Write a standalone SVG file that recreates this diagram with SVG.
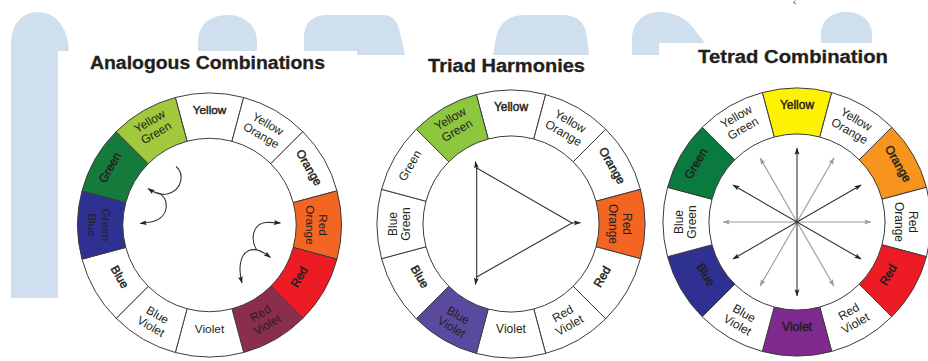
<svg xmlns="http://www.w3.org/2000/svg" width="928" height="361" viewBox="0 0 928 361">
<style>
.bg{fill:#cfdfee}
.seg{stroke:#3b3b3b;stroke-width:1;fill:#fff}
.lbl{font-family:"Liberation Sans",Arial,sans-serif;font-size:12px;fill:#231f20;text-anchor:middle}
.b{stroke:#231f20;stroke-width:0.45}
.title{font-family:"Liberation Sans",Arial,sans-serif;font-size:18px;font-weight:bold;fill:#231f20;stroke:#231f20;stroke-width:0.3}
.conn{fill:none;stroke:#333;stroke-width:1.1}
.gray{stroke:#9a9a9a}
</style>
<defs>
<marker id="ah" viewBox="0 0 10 8" refX="9.5" refY="4" markerWidth="7" markerHeight="5.6" orient="auto-start-reverse" markerUnits="userSpaceOnUse"><path d="M0,0.5 L10,4 L0,7.5 L2,4 Z" fill="#231f20"/></marker>
<marker id="ahg" viewBox="0 0 10 8" refX="9.5" refY="4" markerWidth="7" markerHeight="5.6" orient="auto-start-reverse" markerUnits="userSpaceOnUse"><path d="M0,0.5 L10,4 L0,7.5 L2,4 Z" fill="#9a9a9a"/></marker>
<path id="s0" d="M-34.682,-129.434 A134,134 0 0 1 34.682,-129.434 L22.776,-85.001 A88,88 0 0 0 -22.776,-85.001 Z"/>
<path id="s1" d="M34.682,-129.434 A134,134 0 0 1 94.752,-94.752 L62.225,-62.225 A88,88 0 0 0 22.776,-85.001 Z"/>
<path id="s2" d="M94.752,-94.752 A134,134 0 0 1 129.434,-34.682 L85.001,-22.776 A88,88 0 0 0 62.225,-62.225 Z"/>
<path id="s3" d="M129.434,-34.682 A134,134 0 0 1 129.434,34.682 L85.001,22.776 A88,88 0 0 0 85.001,-22.776 Z"/>
<path id="s4" d="M129.434,34.682 A134,134 0 0 1 94.752,94.752 L62.225,62.225 A88,88 0 0 0 85.001,22.776 Z"/>
<path id="s5" d="M94.752,94.752 A134,134 0 0 1 34.682,129.434 L22.776,85.001 A88,88 0 0 0 62.225,62.225 Z"/>
<path id="s6" d="M34.682,129.434 A134,134 0 0 1 -34.682,129.434 L-22.776,85.001 A88,88 0 0 0 22.776,85.001 Z"/>
<path id="s7" d="M-34.682,129.434 A134,134 0 0 1 -94.752,94.752 L-62.225,62.225 A88,88 0 0 0 -22.776,85.001 Z"/>
<path id="s8" d="M-94.752,94.752 A134,134 0 0 1 -129.434,34.682 L-85.001,22.776 A88,88 0 0 0 -62.225,62.225 Z"/>
<path id="s9" d="M-129.434,34.682 A134,134 0 0 1 -129.434,-34.682 L-85.001,-22.776 A88,88 0 0 0 -85.001,22.776 Z"/>
<path id="s10" d="M-129.434,-34.682 A134,134 0 0 1 -94.752,-94.752 L-62.225,-62.225 A88,88 0 0 0 -85.001,-22.776 Z"/>
<path id="s11" d="M-94.752,-94.752 A134,134 0 0 1 -34.682,-129.434 L-22.776,-85.001 A88,88 0 0 0 -62.225,-62.225 Z"/>
</defs>

<g id="background">
<path class="bg" d="M11,298 V45 C11,24 22,12 38,12 C55,12 66,26 68.5,45 V51 H58 V298 Z"/>
<path class="bg" d="M198,51 V42 C198,24 211,15 228,15 C245,15 257,26 257,42 V51 Z"/>
<path class="bg" d="M304,51 V38 C304,22 313,15 328,15 H382 C393,15 398,22 400,33 L405,55 H357 V51 Z"/>
<path class="bg" d="M493,55 L496,38 C499,22 510,15 525,15 H563 C578,15 586,24 587,38 L589,55 Z"/>
<path class="bg" d="M632,55 V40 C632,22 644,12 660,12 C678,12 690,22 697,33 L705,43 H659 V55 Z"/>
<path class="bg" d="M821,43 V34 C821,20 832,12 847,12 C862,12 872,22 872,34 V43 Z"/>
<path d="M795,0.5 L793.5,2.5 L796,4" stroke="#444" stroke-width="0.8" fill="none"/>
</g>

<g id="titles">
<text class="title" x="90" y="68.5" textLength="235" lengthAdjust="spacingAndGlyphs">Analogous Combinations</text>
<text class="title" x="428" y="72" textLength="157" lengthAdjust="spacingAndGlyphs">Triad Harmonies</text>
<text class="title" x="698" y="62.5" textLength="190" lengthAdjust="spacingAndGlyphs">Tetrad Combination</text>
</g>

<g id="wheel-analogous" transform="translate(209.5,225) scale(0.985)">
<g id="a-yellow"><use href="#s0" class="seg"/><text class="lbl b" transform="translate(0,-117)" y="4.3">Yellow</text></g>
<g id="a-yellow-orange"><use href="#s1" class="seg"/><text class="lbl" transform="translate(56,-97) rotate(30)"><tspan x="0" y="-2.5">Yellow</tspan><tspan x="0" y="11">Orange</tspan></text></g>
<g id="a-orange"><use href="#s2" class="seg"/><text class="lbl b" transform="translate(101.3,-58.5) rotate(60)" y="4.3">Orange</text></g>
<g id="a-red-orange"><use href="#s3" class="seg" style="fill:#f26522"/><text class="lbl" transform="translate(109,0) rotate(90)"><tspan x="0" y="-2.5">Red</tspan><tspan x="0" y="11">Orange</tspan></text></g>
<g id="a-red"><use href="#s4" class="seg" style="fill:#ed1c24"/><text class="lbl b" transform="translate(90.9,52.5) rotate(-60)" y="4.3">Red</text></g>
<g id="a-red-violet"><use href="#s5" class="seg" style="fill:#8b2d4e"/><text class="lbl" transform="translate(55,95.3) rotate(-30)"><tspan x="0" y="-2.5">Red</tspan><tspan x="0" y="11">Violet</tspan></text></g>
<g id="a-violet"><use href="#s6" class="seg"/><text class="lbl" transform="translate(0,105)" y="4.3">Violet</text></g>
<g id="a-blue-violet"><use href="#s7" class="seg"/><text class="lbl" transform="translate(-56,97) rotate(30)"><tspan x="0" y="-2.5">Blue</tspan><tspan x="0" y="11">Violet</tspan></text></g>
<g id="a-blue"><use href="#s8" class="seg"/><text class="lbl b" transform="translate(-90.9,52.5) rotate(60)" y="4.3">Blue</text></g>
<g id="a-blue-green"><use href="#s9" class="seg" style="fill:#2e3192"/><text class="lbl" transform="translate(-112,0) rotate(90)"><tspan x="0" y="11">Blue</tspan><tspan x="0" y="-2.5">Green</tspan></text></g>
<g id="a-green"><use href="#s10" class="seg" style="fill:#157b3c"/><text class="lbl b" transform="translate(-101.3,-58.5) rotate(-60)" y="4.3">Green</text></g>
<g id="a-yellow-green"><use href="#s11" class="seg" style="fill:#a0c93d"/><text class="lbl" transform="translate(-57.5,-99.6) rotate(-30)"><tspan x="0" y="-2.5">Yellow</tspan><tspan x="0" y="11">Green</tspan></text></g>
</g>

<g id="wheel-triad" transform="translate(511,224)">
<g id="t-yellow"><use href="#s0" class="seg"/><text class="lbl b" transform="translate(0,-117)" y="4.3">Yellow</text></g>
<g id="t-yellow-orange"><use href="#s1" class="seg"/><text class="lbl" transform="translate(56,-97) rotate(30)"><tspan x="0" y="-2.5">Yellow</tspan><tspan x="0" y="11">Orange</tspan></text></g>
<g id="t-orange"><use href="#s2" class="seg"/><text class="lbl b" transform="translate(101.3,-58.5) rotate(60)" y="4.3">Orange</text></g>
<g id="t-red-orange"><use href="#s3" class="seg" style="fill:#f26522"/><text class="lbl" transform="translate(109,0) rotate(90)"><tspan x="0" y="-2.5">Red</tspan><tspan x="0" y="11">Orange</tspan></text></g>
<g id="t-red"><use href="#s4" class="seg"/><text class="lbl b" transform="translate(90.9,52.5) rotate(-60)" y="4.3">Red</text></g>
<g id="t-red-violet"><use href="#s5" class="seg"/><text class="lbl" transform="translate(55,95.3) rotate(-30)"><tspan x="0" y="-2.5">Red</tspan><tspan x="0" y="11">Violet</tspan></text></g>
<g id="t-violet"><use href="#s6" class="seg"/><text class="lbl" transform="translate(0,105)" y="4.3">Violet</text></g>
<g id="t-blue-violet"><use href="#s7" class="seg" style="fill:#5a4a9f"/><text class="lbl" transform="translate(-56,97) rotate(30)"><tspan x="0" y="-2.5">Blue</tspan><tspan x="0" y="11">Violet</tspan></text></g>
<g id="t-blue"><use href="#s8" class="seg"/><text class="lbl b" transform="translate(-90.9,52.5) rotate(60)" y="4.3">Blue</text></g>
<g id="t-blue-green"><use href="#s9" class="seg"/><text class="lbl" transform="translate(-112,0) rotate(-90)"><tspan x="0" y="-2.5">Blue</tspan><tspan x="0" y="11">Green</tspan></text></g>
<g id="t-green"><use href="#s10" class="seg"/><text class="lbl" transform="translate(-101.3,-58.5) rotate(-60)" y="4.3">Green</text></g>
<g id="t-yellow-green"><use href="#s11" class="seg" style="fill:#8dc63f"/><text class="lbl" transform="translate(-57.5,-99.6) rotate(-30)"><tspan x="0" y="-2.5">Yellow</tspan><tspan x="0" y="11">Green</tspan></text></g>
</g>

<g id="wheel-tetrad" transform="translate(797,222)">
<g id="q-yellow"><use href="#s0" class="seg" style="fill:#fff200"/><text class="lbl b" transform="translate(0,-117)" y="4.3">Yellow</text></g>
<g id="q-yellow-orange"><use href="#s1" class="seg"/><text class="lbl" transform="translate(56,-97) rotate(30)"><tspan x="0" y="-2.5">Yellow</tspan><tspan x="0" y="11">Orange</tspan></text></g>
<g id="q-orange"><use href="#s2" class="seg" style="fill:#f7941d"/><text class="lbl b" transform="translate(101.3,-58.5) rotate(60)" y="4.3">Orange</text></g>
<g id="q-red-orange"><use href="#s3" class="seg"/><text class="lbl" transform="translate(109,0) rotate(90)"><tspan x="0" y="-2.5">Red</tspan><tspan x="0" y="11">Orange</tspan></text></g>
<g id="q-red"><use href="#s4" class="seg" style="fill:#ed1c24"/><text class="lbl b" transform="translate(90.9,52.5) rotate(-60)" y="4.3">Red</text></g>
<g id="q-red-violet"><use href="#s5" class="seg"/><text class="lbl" transform="translate(55,95.3) rotate(-30)"><tspan x="0" y="-2.5">Red</tspan><tspan x="0" y="11">Violet</tspan></text></g>
<g id="q-violet"><use href="#s6" class="seg" style="fill:#7f2a8e"/><text class="lbl b" transform="translate(0,105)" y="4.3">Violet</text></g>
<g id="q-blue-violet"><use href="#s7" class="seg"/><text class="lbl" transform="translate(-56,97) rotate(30)"><tspan x="0" y="-2.5">Blue</tspan><tspan x="0" y="11">Violet</tspan></text></g>
<g id="q-blue"><use href="#s8" class="seg" style="fill:#2e3192"/><text class="lbl b" transform="translate(-90.9,52.5) rotate(60)" y="4.3">Blue</text></g>
<g id="q-blue-green"><use href="#s9" class="seg"/><text class="lbl" transform="translate(-112,0) rotate(-90)"><tspan x="0" y="-2.5">Blue</tspan><tspan x="0" y="11">Green</tspan></text></g>
<g id="q-green"><use href="#s10" class="seg" style="fill:#0b7a3e"/><text class="lbl b" transform="translate(-101.3,-58.5) rotate(-60)" y="4.3">Green</text></g>
<g id="q-yellow-green"><use href="#s11" class="seg"/><text class="lbl" transform="translate(-57.5,-99.6) rotate(-30)"><tspan x="0" y="-2.5">Yellow</tspan><tspan x="0" y="11">Green</tspan></text></g>
</g>

<g id="connectors">
<path class="conn" marker-end="url(#ah)" d="M176,166.5 C184,173 183.5,190 167,194 C161,195.3 154,192.5 148,188.5"/>
<path class="conn" marker-end="url(#ah)" d="M157.5,192.5 C170,197 170,217 153,221.5 C149,222.5 144,223 140,223.5"/>
<path class="conn" marker-end="url(#ah)" d="M256.5,249.5 C250,239 253,223.5 266,222.5 C271,222.2 275,222.6 280.5,223"/>
<path class="conn" marker-start="url(#ah)" marker-end="url(#ah)" d="M270.5,257.5 C264,252.5 256,247 248,251 C240,255 238,269 242,283"/>

<polygon class="conn" points="476.7,168 572,223 476.7,277"/>
<path class="conn" marker-end="url(#ah)" d="M476.7,169 L475.4,161.5"/>
<path class="conn" marker-end="url(#ah)" d="M571,223 L580.5,222.8"/>
<path class="conn" marker-end="url(#ah)" d="M476.7,276 L475.4,284.5"/>

<path class="conn gray" marker-start="url(#ahg)" marker-end="url(#ahg)" d="M834,157.9 L760,286.1"/>
<path class="conn gray" marker-start="url(#ahg)" marker-end="url(#ahg)" d="M871,222 L723,222"/>
<path class="conn gray" marker-start="url(#ahg)" marker-end="url(#ahg)" d="M760,157.9 L834,286.1"/>
<path class="conn" marker-start="url(#ah)" marker-end="url(#ah)" d="M797,148 L797,296"/>
<path class="conn" marker-start="url(#ah)" marker-end="url(#ah)" d="M861.1,185 L732.9,259"/>
<path class="conn" marker-start="url(#ah)" marker-end="url(#ah)" d="M861.1,259 L732.9,185"/>
</g>
</svg>
